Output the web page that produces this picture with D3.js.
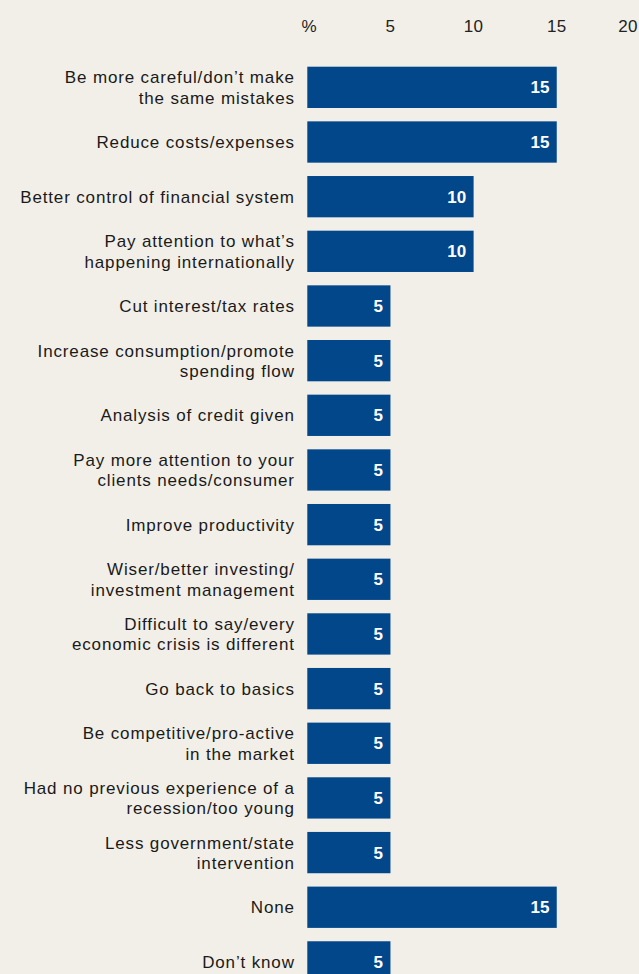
<!DOCTYPE html>
<html>
<head>
<meta charset="utf-8">
<script src="https://cdn.jsdelivr.net/npm/d3@7"></script>
<style>
  html, body { margin: 0; padding: 0; background: #f2efe8; }
  svg { display: block; }
</style>
</head>
<body>
<svg id="chart" width="639" height="974"></svg>
<script>
// Category labels (line breaks with "\n")
const categories = [
  "Be more careful/don\u2019t make\nthe same mistakes",
  "Reduce costs/expenses",
  "Better control of financial system",
  "Pay attention to what\u2019s\nhappening internationally",
  "Cut interest/tax rates",
  "Increase consumption/promote\nspending flow",
  "Analysis of credit given",
  "Pay more attention to your\nclients needs/consumer",
  "Improve productivity",
  "Wiser/better investing/\ninvestment management",
  "Difficult to say/every\neconomic crisis is different",
  "Go back to basics",
  "Be competitive/pro-active\nin the market",
  "Had no previous experience of a\nrecession/too young",
  "Less government/state\nintervention",
  "None",
  "Don\u2019t know"
];
const values = [15, 15, 10, 10, 5, 5, 5, 5, 5, 5, 5, 5, 5, 5, 5, 15, 5];
const tickValues = [0, 5, 10, 15, 20];
const tickLabels = ["%", "5", "10", "15", "20"];

const width = 639;
const svg = d3.select("#chart");
const fontFamily = "'Liberation Sans', Arial, sans-serif";

const x = d3.scaleLinear().domain([0, 20]).range([307.3, 639.9]);

// Band scale: fixed step between rows and fixed bar thickness
const step = 54.66, bw = 41.3, firstTop = 66.7;
const pad = (step - bw) / step;
const y = d3.scaleBand()
  .domain(d3.range(categories.length))
  .range([firstTop - (step - bw) / 2, firstTop - (step - bw) / 2 + step * categories.length])
  .paddingInner(pad)
  .paddingOuter(pad / 2);

// Top axis labels (last one kept inside the frame)
svg.append("g")
  .selectAll("text")
  .data(tickValues)
  .join("text")
  .attr("x", (d, i) => i === 0 ? x(d) + 2 : Math.min(x(d), width - 11))
  .attr("y", 32)
  .attr("text-anchor", "middle")
  .attr("font-family", fontFamily)
  .attr("font-size", 17)
  .attr("letter-spacing", "0.3px")
  .attr("fill", "#222")
  .text((d, i) => tickLabels[i]);

// Bars
const rows = svg.append("g")
  .selectAll("g")
  .data(values)
  .join("g");

rows.append("rect")
  .attr("x", x(0))
  .attr("y", (d, i) => y(i))
  .attr("width", d => x(d) - x(0))
  .attr("height", y.bandwidth())
  .attr("fill", "#03478b");

// Value labels inside bars
rows.append("text")
  .attr("x", d => x(d) - 7.4)
  .attr("y", (d, i) => y(i) + y.bandwidth() / 2)
  .attr("dy", "0.36em")
  .attr("text-anchor", "end")
  .attr("font-family", fontFamily)
  .attr("font-size", 17)
  .attr("font-weight", "bold")
  .attr("fill", "#ffffff")
  .text(d => d);

// Category labels, right aligned left of the bars
const lineH = 20.3;
svg.append("g")
  .selectAll("text")
  .data(categories)
  .join("text")
  .attr("text-anchor", "end")
  .attr("font-family", fontFamily)
  .attr("font-size", 17)
  .attr("letter-spacing", "0.85px")
  .attr("fill", "#1a1a1a")
  .each(function (d, i) {
    const lines = d.split("\n");
    const cy = y(i) + y.bandwidth() / 2;
    const startY = cy - (lines.length - 1) * lineH / 2;
    d3.select(this).selectAll("tspan")
      .data(lines)
      .join("tspan")
      .attr("x", 294.8)
      .attr("y", (l, j) => startY + j * lineH)
      .attr("dy", "0.36em")
      .text(l => l);
  });
</script>
</body>
</html>
